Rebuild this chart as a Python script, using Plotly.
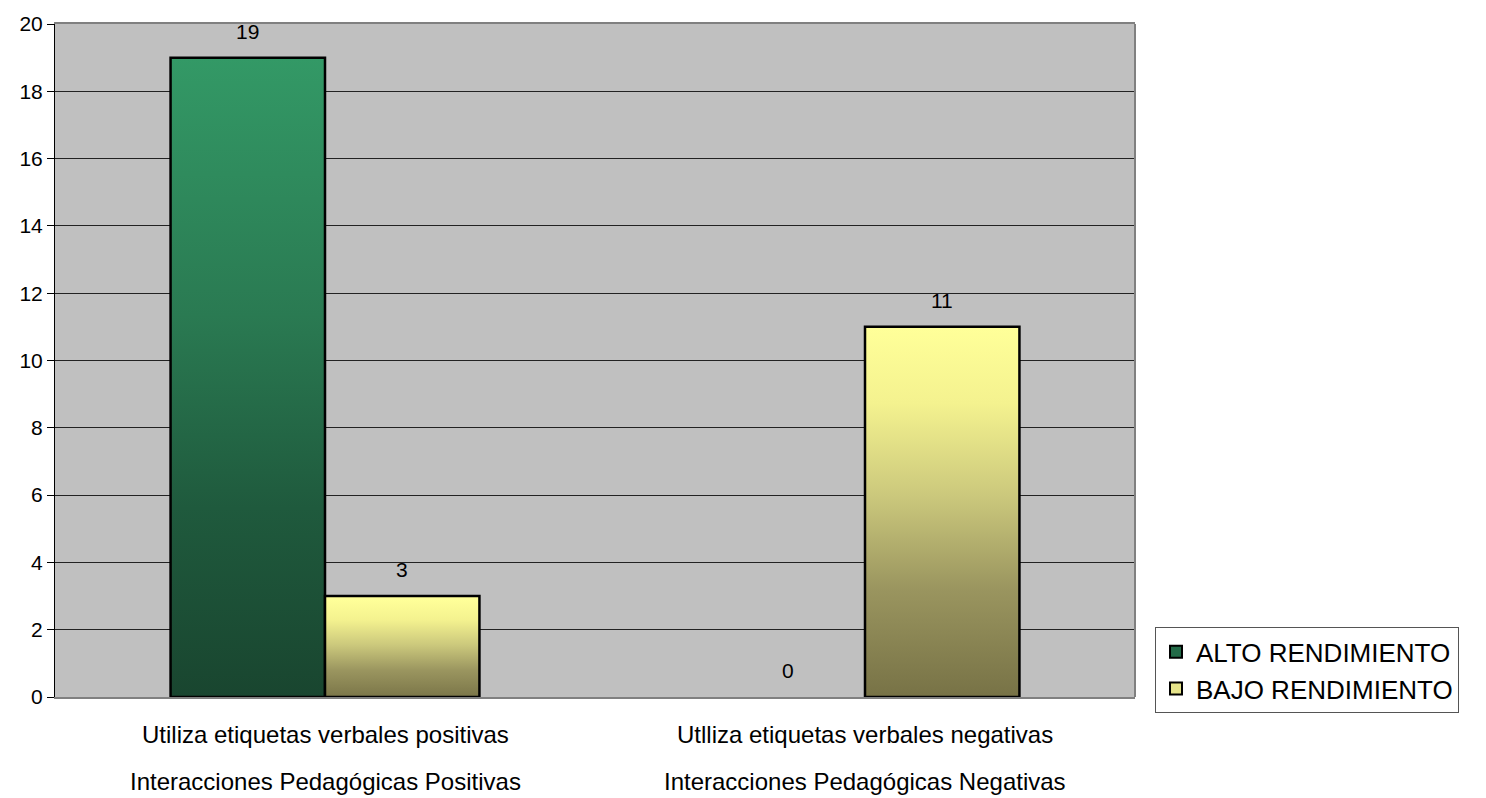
import plotly.graph_objects as go

# Categories (two-level labels) and series values
categorias = ["Utiliza etiquetas verbales positivas", "Utlliza etiquetas verbales negativas"]
grupos = ["Interacciones Pedagógicas Positivas", "Interacciones Pedagógicas Negativas"]
series = ["ALTO RENDIMIENTO", "BAJO RENDIMIENTO"]
alto = [19, 0]
bajo = [3, 11]
y_ticks = list(range(0, 21, 2))

valores = [alto, bajo]
gradientes = [
    [[0, "#19452f"], [0.3, "#1f5a3d"], [0.6, "#2a7a52"], [1, "#339966"]],
    [[0, "#767145"], [0.3, "#9a955f"], [0.55, "#cbc87c"], [0.8, "#f4f28f"], [1, "#ffff99"]],
]
leyenda_col = ["#236b48", "#e6e48a"]
FUENTE = "Arial, Liberation Sans"

ancho = 0.286  # bar width in category units
fig = go.Figure()

for s, (nombre, vals) in enumerate(zip(series, valores)):
    for i, v in enumerate(vals):
        x0 = i - ancho if s == 0 else i
        x1 = x0 + ancho
        fig.add_trace(go.Scatter(
            x=[x0, x1, x1, x0, x0],
            y=[0, 0, v, v, 0],
            mode="lines",
            fill="toself",
            fillgradient=dict(type="vertical", colorscale=gradientes[s], start=0, stop=v if v > 0 else 1),
            fillcolor=leyenda_col[s],
            line=dict(color="black", width=2.5 if v > 0 else 0),
            name=nombre,
            showlegend=False,
            hoverinfo="skip",
        ))
        fig.add_annotation(
            x=(x0 + x1) / 2, y=v, xref="x", yref="y",
            text=str(v), showarrow=False, yanchor="bottom", yshift=13,
            font=dict(family=FUENTE, size=21, color="black"),
        )

# Legend entries with square swatches
for s, nombre in enumerate(series):
    fig.add_trace(go.Bar(
        x=[None], y=[None], name=nombre,
        marker=dict(color=leyenda_col[s], line=dict(color="black", width=2)),
        showlegend=True, hoverinfo="skip",
    ))

# Two-level category labels
for i, (cat, grp) in enumerate(zip(categorias, grupos)):
    fig.add_annotation(x=i, y=-0.0561, xref="x", yref="paper", text=cat, showarrow=False,
                       yanchor="middle", font=dict(family=FUENTE, size=24, color="black"))
    fig.add_annotation(x=i, y=-0.1256, xref="x", yref="paper", text=grp, showarrow=False,
                       yanchor="middle", font=dict(family=FUENTE, size=24, color="black"))

# Right border of the plot area
fig.add_shape(type="line", xref="paper", yref="paper", x0=1, x1=1, y0=0, y1=1,
              line=dict(color="#808080", width=2))

fig.update_layout(
    width=1486, height=798,
    margin=dict(l=55, r=351, t=20, b=101),
    paper_bgcolor="white",
    plot_bgcolor="#c0c0c0",
    font=dict(family=FUENTE, size=21, color="black"),
    showlegend=True,
    legend=dict(
        x=1.0185, y=0.1034, xanchor="left", yanchor="top",
        bgcolor="white", bordercolor="#555555", borderwidth=1,
        font=dict(family=FUENTE, size=26, color="black"),
        itemwidth=30, tracegroupgap=0,
    ),
    xaxis=dict(
        range=[-0.5, 1.5], showgrid=False, zeroline=False,
        showticklabels=False, ticks="",
        showline=True, linecolor="#808080", linewidth=2, mirror=True,
    ),
    yaxis=dict(
        range=[0, 20], tickvals=y_ticks, ticks="outside", ticklen=7, tickcolor="black",
        showgrid=True, gridcolor="#222222", gridwidth=1, zeroline=False,
        showline=True, linecolor="black", linewidth=1,
        tickfont=dict(family=FUENTE, size=21, color="black"),
    ),
)

fig.write_html("out.html")
